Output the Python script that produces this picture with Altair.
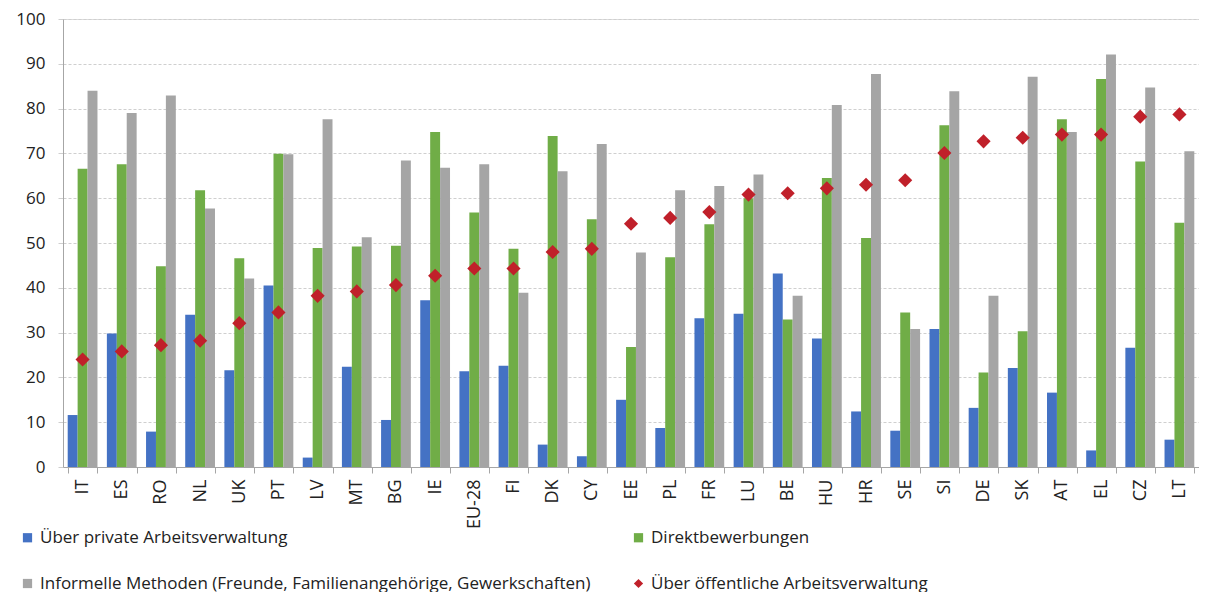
import altair as alt
import pandas as pd

countries = ["IT", "ES", "RO", "NL", "UK", "PT", "LV", "MT", "BG", "IE", "EU-28", "FI", "DK", "CY",
             "EE", "PL", "FR", "LU", "BE", "HU", "HR", "SE", "SI", "DE", "SK", "AT", "EL", "CZ", "LT"]
private = [11.6, 29.8, 7.9, 34.0, 21.6, 40.5, 2.1, 22.4, 10.5, 37.2, 21.4, 22.6, 5.0, 2.4,
           15.0, 8.7, 33.2, 34.2, 43.2, 28.7, 12.4, 8.1, 30.8, 13.2, 22.1, 16.6, 3.7, 26.6, 6.1]
direct = [66.6, 67.6, 44.8, 61.8, 46.6, 69.9, 48.9, 49.2, 49.4, 74.8, 56.8, 48.7, 73.9, 55.3,
          26.8, 46.8, 54.2, 60.0, 32.9, 64.5, 51.1, 34.5, 76.3, 21.1, 30.3, 77.6, 86.6, 68.2, 54.5]
informal = [84.0, 79.0, 82.9, 57.7, 42.1, 69.8, 77.6, 51.3, 68.4, 66.8, 67.6, 38.9, 66.0, 72.1,
            47.9, 61.8, 62.7, 65.3, 38.2, 80.8, 87.7, 30.8, 83.9, 38.2, 87.1, 74.8, 92.1, 84.7, 70.5]
public = [24.0, 25.8, 27.2, 28.2, 32.1, 34.5, 38.2, 39.2, 40.6, 42.7, 44.3, 44.3, 48.0, 48.7,
          54.3, 55.6, 56.9, 60.8, 61.1, 62.2, 63.0, 64.0, 70.1, 72.7, 73.5, 74.2, 74.2, 78.2, 78.7]

series = ["Über private Arbeitsverwaltung", "Direktbewerbungen",
          "Informelle Methoden (Freunde, Familienangehörige, Gewerkschaften)",
          "Über öffentliche Arbeitsverwaltung"]
colors = ["#4472C4", "#70AD47", "#A5A5A5", "#C0202A"]
shapes = ["square", "square", "square", "diamond"]

rows = []
for name, vals in zip(series[:3], [private, direct, informal]):
    for c, v in zip(countries, vals):
        rows.append({"country": c, "series": name, "value": v})
bars_df = pd.DataFrame(rows)
pts_df = pd.DataFrame({"country": countries, "series": series[3], "value": public})

FONT = "Open Sans"

x_enc = alt.X("country:N", sort=countries, title=None,
              scale=alt.Scale(paddingInner=0.24, paddingOuter=0.12),
              axis=alt.Axis(labelAngle=-90, labelFontSize=18, labelFont=FONT, labelColor="#222",
                            tickBand="extent", tickSize=6, tickColor="#A6A6A6",
                            domainColor="#A6A6A6", labelPadding=6))
y_enc = alt.Y("value:Q", title=None,
              scale=alt.Scale(domain=[0, 100], nice=False),
              axis=alt.Axis(values=list(range(0, 101, 10)), labelFontSize=17, labelFont=FONT,
                            labelColor="#222", grid=True, gridColor="#CFCFCF", gridDash=[3, 2],
                            tickSize=5, tickColor="#CFCFCF", domainColor="#A6A6A6", labelPadding=13))


def make_legend():
    return alt.Legend(title=None, orient="none", legendX=-44, legendY=510, direction="horizontal",
                      columns=2, columnPadding=39, rowPadding=28,
                      labelFontSize=17, labelFont=FONT, labelColor="#222",
                      symbolSize=85, labelLimit=1000, symbolStrokeWidth=0)


color_enc = alt.Color("series:N", scale=alt.Scale(domain=series, range=colors), legend=make_legend())

bars = alt.Chart(bars_df).mark_bar().encode(
    x=x_enc,
    xOffset=alt.XOffset("series:N", sort=series[:3], scale=alt.Scale(paddingInner=0, paddingOuter=0)),
    y=y_enc,
    color=color_enc,
)

points = alt.Chart(pts_df).mark_point(filled=True, size=200, opacity=1).encode(
    x=x_enc,
    y=y_enc,
    color=color_enc,
    shape=alt.Shape("series:N", scale=alt.Scale(domain=series, range=shapes), legend=make_legend()),
)

chart = alt.layer(bars, points).properties(
    width=1136, height=448,
    padding={"left": 7, "top": 2, "right": 0, "bottom": 0},
).configure_view(stroke=None).configure(background="white")

chart.save("out.html", embed_options={"renderer": "svg", "actions": False})
